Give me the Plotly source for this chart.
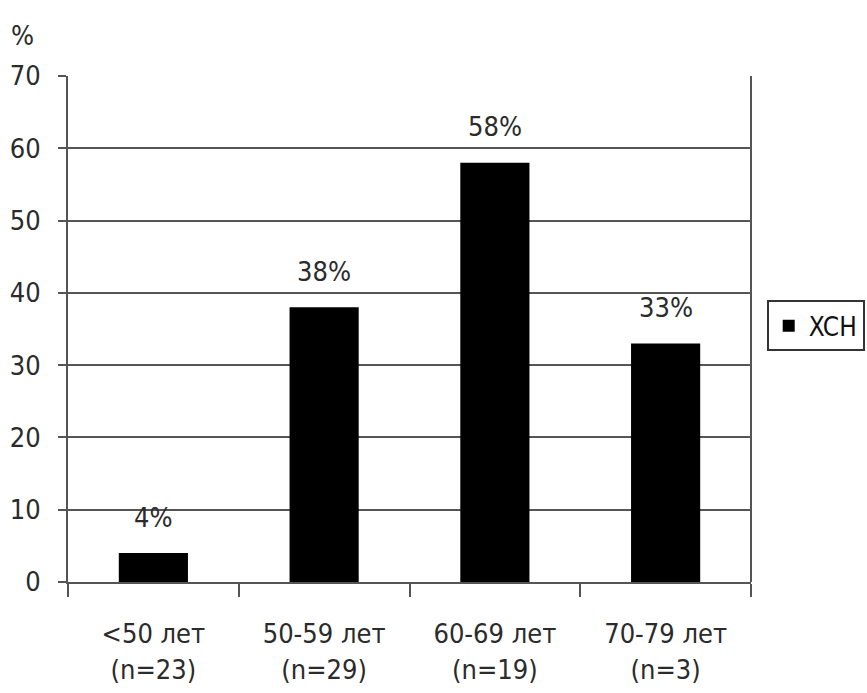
import plotly.graph_objects as go

# Heart failure (ХСН) prevalence by age group
age_groups = ["<50 лет", "50-59 лет", "60-69 лет", "70-79 лет"]
group_sizes = [23, 29, 19, 3]
percent_hf = [4, 38, 58, 33]
y_ticks = [0, 10, 20, 30, 40, 50, 60, 70]

FONT = "DejaVu Sans Condensed, Liberation Sans Narrow, sans-serif"
TEXT = "#2b2b2b"
LINE = "#555555"

tick_text = [f"{g}<br>(n={n})" for g, n in zip(age_groups, group_sizes)]

fig = go.Figure()
fig.add_trace(go.Bar(
    x=age_groups,
    y=percent_hf,
    name="XCH",
    marker=dict(color="black", line=dict(width=0)),
    width=0.405,
    showlegend=True,
))

for g, v in zip(age_groups, percent_hf):
    fig.add_annotation(
        x=g, y=v, text=f"{v}%", showarrow=False,
        yshift=36, yanchor="middle", xanchor="center",
        font=dict(family=FONT, size=27, color=TEXT),
    )

fig.add_annotation(
    x=0, y=1, xref="paper", yref="paper", text="%",
    showarrow=False, xshift=-46, yshift=41, xanchor="center", yanchor="middle",
    font=dict(family=FONT, size=27, color=TEXT),
)

fig.update_layout(
    width=867, height=693,
    margin=dict(l=68, r=116, t=76, b=111, autoexpand=False),
    paper_bgcolor="white", plot_bgcolor="white",
    font=dict(family=FONT, size=27, color=TEXT),
    showlegend=True,
    legend=dict(
        x=1.023, y=0.506, xanchor="left", yanchor="middle",
        bordercolor="#333333", borderwidth=2, bgcolor="white",
        font=dict(family=FONT, size=26, color="#111111"),
        itemwidth=30,
    ),
    bargap=0.595,
)

fig.update_xaxes(
    type="category",
    tickvals=age_groups, ticktext=tick_text,
    tickson="boundaries", ticks="outside", ticklen=13, tickwidth=2, tickcolor=LINE,
    showline=True, linecolor=LINE, linewidth=2, mirror=False,
    showgrid=False,
    ticklabelstandoff=27,
    tickfont=dict(family=FONT, size=27, color=TEXT),
)

fig.update_yaxes(
    range=[0, 70],
    tickvals=y_ticks,
    ticks="outside", ticklen=8, tickwidth=2, tickcolor=LINE,
    showline=True, linecolor=LINE, linewidth=2,
    showgrid=True, gridcolor=LINE, gridwidth=2,
    zeroline=False,
    ticklabelstandoff=12,
    tickfont=dict(family=FONT, size=27, color=TEXT),
)

# right border of the plot area
fig.add_shape(type="line", xref="paper", yref="paper", x0=1, x1=1, y0=0, y1=1,
              line=dict(color=LINE, width=2))

fig.write_html("out.html")
